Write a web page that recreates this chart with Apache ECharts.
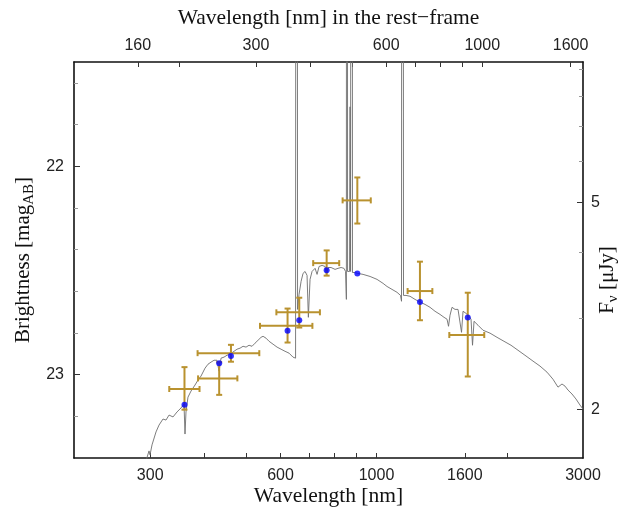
<!DOCTYPE html>
<html><head><meta charset="utf-8">
<script src="https://cdn.jsdelivr.net/npm/echarts@6/dist/echarts.min.js"></script>
<style>html,body{margin:0;padding:0;background:#fff}#c{width:619px;height:515px}</style>
</head><body><div id="c"></div>
<script>
// ---- data (observed wavelength in nm, AB magnitude) ----
const specWave = [293.3,298.1,299.7,302.9,309.4,314.4,321.1,326.3,331.6,338.7,346.0,353.4,359.1,361.0,362.9,366.8,372.7,380.7,386.9,393.1,401.6,408.0,414.6,421.3,428.0,432.6,437.3,444.3,451.4,458.7,468.6,476.1,483.8,491.6,499.5,507.5,515.7,524.0,532.5,541.0,546.8,555.6,564.6,576.7,589.1,601.8,614.7,628.0,641.3,650.1,653.5,657.0,662.3,669.4,676.5,683.8,691.1,695.9,702.2,709.7,721.2,728.9,736.7,748.5,760.6,766.7,772.8,785.2,802.1,815.0,828.2,841.1,848.2,851.9,854.6,857.3,866.5,868.8,871.1,874.4,877.2,880.0,892.2,903.2,931.0,966.3,1002.8,1035.3,1057.6,1086.0,1115.3,1136.2,1142.3,1148.4,1154.5,1170.0,1195.1,1227.4,1260.5,1294.5,1329.4,1365.2,1402.0,1432.2,1455.3,1466.9,1478.7,1494.5,1518.5,1543.0,1559.5,1572.0,1584.6,1610.1,1636.0,1653.5,1666.7,1680.1,1716.2,1762.5,1829.3,1898.7,1970.4,2045.2,2122.6,2203.0,2299.0,2386.4,2476.8,2557.2,2626.2,2682.8,2726.0,2769.8,2829.4,2890.2,2952.4,3000];
const specMag = [23.414,23.366,23.385,23.337,23.275,23.242,23.213,23.218,23.194,23.203,23.179,23.160,23.141,23.285,23.179,23.108,23.079,23.050,23.026,23.007,22.969,22.950,22.940,22.931,22.931,22.983,22.921,22.916,22.907,22.902,22.888,22.878,22.873,22.864,22.868,22.859,22.864,22.849,22.835,22.821,22.816,22.825,22.840,22.854,22.868,22.878,22.888,22.897,22.916,22.921,10.0,22.687,22.615,22.553,22.514,22.505,22.524,22.725,22.543,22.505,22.490,22.519,22.481,22.476,22.481,22.524,22.486,22.486,22.495,22.490,22.486,22.490,22.505,22.639,10.0,22.505,22.505,21.715,22.505,22.505,10.0,22.510,22.510,22.514,22.519,22.529,22.543,22.562,22.577,22.591,22.605,22.620,22.648,10.0,22.620,22.620,22.624,22.639,22.652,22.663,22.677,22.696,22.711,22.725,22.734,22.768,22.715,22.677,22.687,22.687,22.696,22.797,22.696,22.706,22.720,22.734,22.859,22.744,22.763,22.787,22.801,22.821,22.840,22.859,22.883,22.907,22.935,22.959,22.988,23.022,23.060,23.045,23.055,23.074,23.093,23.117,23.146,23.165];

const photWave    = [360, 433, 461, 623, 663, 767, 903, 1260, 1625];
const photWaveLo  = [332, 387, 386, 538, 587, 714, 835, 1180, 1473];
const photWaveHi  = [390, 477, 536, 711, 740, 820, 970, 1346, 1774];
const photMag     = [23.069, 23.018, 22.897, 22.766, 22.701, 22.465, 22.164, 22.599, 22.810];
const photMagTop  = [22.964, 22.940, 22.857, 22.683, 22.631, 22.404, 22.054, 22.458, 22.607];
const photMagBot  = [23.168, 23.097, 22.938, 22.846, 22.774, 22.525, 22.275, 22.739, 23.009];
const modelMag    = [23.144, 22.945, 22.911, 22.790, 22.739, 22.499, 22.515, 22.652, 22.726];

const bottomTickLabels = [300, 600, 1000, 1600, 3000];
const bottomTicks      = [300, 400, 500, 600, 700, 800, 900, 1000, 1600, 2000];
const topTickLabels    = [160, 300, 600, 1000, 1600];
const topTicks         = [160, 200, 300, 400, 500, 600, 700, 800, 900, 1000, 1600];
const leftTickLabels   = [22, 23];
const leftMinorTicks   = [21.6, 21.8, 22.2, 22.4, 22.6, 22.8, 23.2];
const rightTickLabels  = [2, 5];
const rightMinorTicks  = [3, 4, 6, 7, 8, 9];

const redshift = 0.755;
const waveRange = [200, 3000];
const magRange = [21.5, 23.4];
const abZeroPoint = 23.92; // mag of 1 microJy in this plot

// ---- build ----
const sans = '"Liberation Sans", Arial, sans-serif';
const serif = '"Liberation Serif", "Times New Roman", serif';
const frame = {show: true, onZero: false, lineStyle: {color: '#111', width: 1.6}};
const tickStyle = {color: '#333', width: 1};
const lblStyle = {fontFamily: sans, fontSize: 16, color: '#222'};
const fmt = v => String(Math.round(v * 10) / 10);

const specData = specWave.map((w, i) => [w, specMag[i]]);
const photData = photWave.map((w, i) => [w, photMag[i], photWaveLo[i], photWaveHi[i], photMagTop[i], photMagBot[i]]);
const modelData = photWave.map((w, i) => [w, modelMag[i]]);

const fluxMin = Math.pow(10, (abZeroPoint - magRange[1]) / 2.5);
const fluxMax = Math.pow(10, (abZeroPoint - magRange[0]) / 2.5);

const chart = echarts.init(document.getElementById('c'), null, {renderer: 'canvas'});
chart.setOption({
  animation: false,
  backgroundColor: '#fff',
  grid: {left: 74, right: 36, top: 62, bottom: 57, containLabel: false, outerBoundsMode: 'none'},
  xAxis: [
    {type: 'log', logBase: 10, min: waveRange[0], max: waveRange[1], position: 'bottom',
     name: 'Wavelength [nm]', nameLocation: 'middle', nameGap: 27, nameMoveOverlap: false,
     nameTextStyle: {fontFamily: serif, fontSize: 21.5, color: '#111'},
     axisLine: frame,
     axisTick: {show: true, inside: true, length: 5, customValues: bottomTicks, lineStyle: tickStyle},
     axisLabel: Object.assign({customValues: bottomTickLabels, margin: 10, formatter: fmt}, lblStyle),
     splitLine: {show: false}, minorTick: {show: false}},
    {type: 'log', logBase: 10, min: waveRange[0] / (1 + redshift), max: waveRange[1] / (1 + redshift), position: 'top',
     name: 'Wavelength [nm] in the rest\u2212frame', nameLocation: 'middle', nameGap: 33, nameMoveOverlap: false,
     nameTextStyle: {fontFamily: serif, fontSize: 21.5, color: '#111'},
     axisLine: frame,
     axisTick: {show: true, inside: true, length: 5, customValues: topTicks, lineStyle: tickStyle},
     axisLabel: Object.assign({customValues: topTickLabels, margin: 8, formatter: fmt}, lblStyle),
     splitLine: {show: false}, minorTick: {show: false}}
  ],
  yAxis: [
    {type: 'value', inverse: true, min: magRange[0], max: magRange[1], position: 'left', offset: 0,
     name: '{a|Brightness [mag}{s|AB}{a|]}', nameLocation: 'middle', nameRotate: 90, nameGap: 37, nameMoveOverlap: false,
     nameTextStyle: {rich: {
       a: {fontFamily: serif, fontSize: 21, color: '#111', lineHeight: 28},
       s: {fontFamily: serif, fontSize: 15, color: '#111', lineHeight: 28, verticalAlign: 'bottom'}}},
     axisLine: frame,
     axisTick: {show: true, inside: true, length: 6, customValues: leftTickLabels, lineStyle: tickStyle},
     axisLabel: Object.assign({customValues: leftTickLabels, margin: 10, formatter: fmt}, lblStyle),
     splitLine: {show: false}},
    {type: 'log', logBase: 10, min: fluxMin, max: fluxMax, position: 'right', offset: 0,
     name: '{a|F}{s|\u03bd}{a| [\u03bcJy]}', nameLocation: 'middle', nameRotate: 90, nameGap: 10, nameMoveOverlap: false,
     nameTextStyle: {padding: [0, 40, 0, 0], rich: {
       a: {fontFamily: serif, fontSize: 21, color: '#111', lineHeight: 28},
       s: {fontFamily: serif, fontSize: 15, color: '#111', lineHeight: 28, verticalAlign: 'bottom'}}},
     axisLine: frame,
     axisTick: {show: true, inside: true, length: 6, customValues: rightTickLabels, lineStyle: tickStyle},
     axisLabel: Object.assign({customValues: rightTickLabels, margin: 8, formatter: fmt}, lblStyle),
     splitLine: {show: false}, minorTick: {show: false}},
    {type: 'value', inverse: true, min: magRange[0], max: magRange[1], position: 'left', offset: 0,
     axisLine: {show: false}, axisLabel: {show: false}, splitLine: {show: false},
     axisTick: {show: true, inside: true, length: 4, customValues: leftMinorTicks, lineStyle: {color: '#999', width: 1}}},
    {type: 'log', logBase: 10, min: fluxMin, max: fluxMax, position: 'right', offset: 0,
     axisLine: {show: false}, axisLabel: {show: false}, splitLine: {show: false}, minorTick: {show: false},
     axisTick: {show: true, inside: true, length: 4, customValues: rightMinorTicks, lineStyle: {color: '#999', width: 1}}}
  ],
  series: [
    {type: 'line', xAxisIndex: 0, yAxisIndex: 0, data: specData, showSymbol: false, symbol: 'none',
     clip: true, lineStyle: {color: '#6e6e6e', width: 0.9}, z: 2, silent: true},
    {type: 'custom', xAxisIndex: 0, yAxisIndex: 0, data: photData, encode: {x: 0, y: 1}, z: 3, clip: true,
     renderItem: function (params, api) {
       const x = api.value(0), y = api.value(1);
       const c = api.coord([x, y]);
       const l = api.coord([api.value(2), y]);
       const r = api.coord([api.value(3), y]);
       const t = api.coord([x, api.value(4)]);
       const b = api.coord([x, api.value(5)]);
       const cap = 3;
       const st = {stroke: '#b9922f', lineWidth: 2, fill: null};
       const ln = (x1, y1, x2, y2) => ({type: 'line', shape: {x1, y1, x2, y2}, style: st});
       return {type: 'group', children: [
         ln(l[0], c[1], r[0], c[1]),
         ln(c[0], t[1], c[0], b[1]),
         ln(l[0], c[1] - cap, l[0], c[1] + cap),
         ln(r[0], c[1] - cap, r[0], c[1] + cap),
         ln(c[0] - cap, t[1], c[0] + cap, t[1]),
         ln(c[0] - cap, b[1], c[0] + cap, b[1])
       ]};
     }},
    {type: 'scatter', xAxisIndex: 0, yAxisIndex: 0, data: modelData, symbol: 'circle', symbolSize: 6,
     itemStyle: {color: '#0000ff'}, z: 4}
  ]
});
</script></body></html>
